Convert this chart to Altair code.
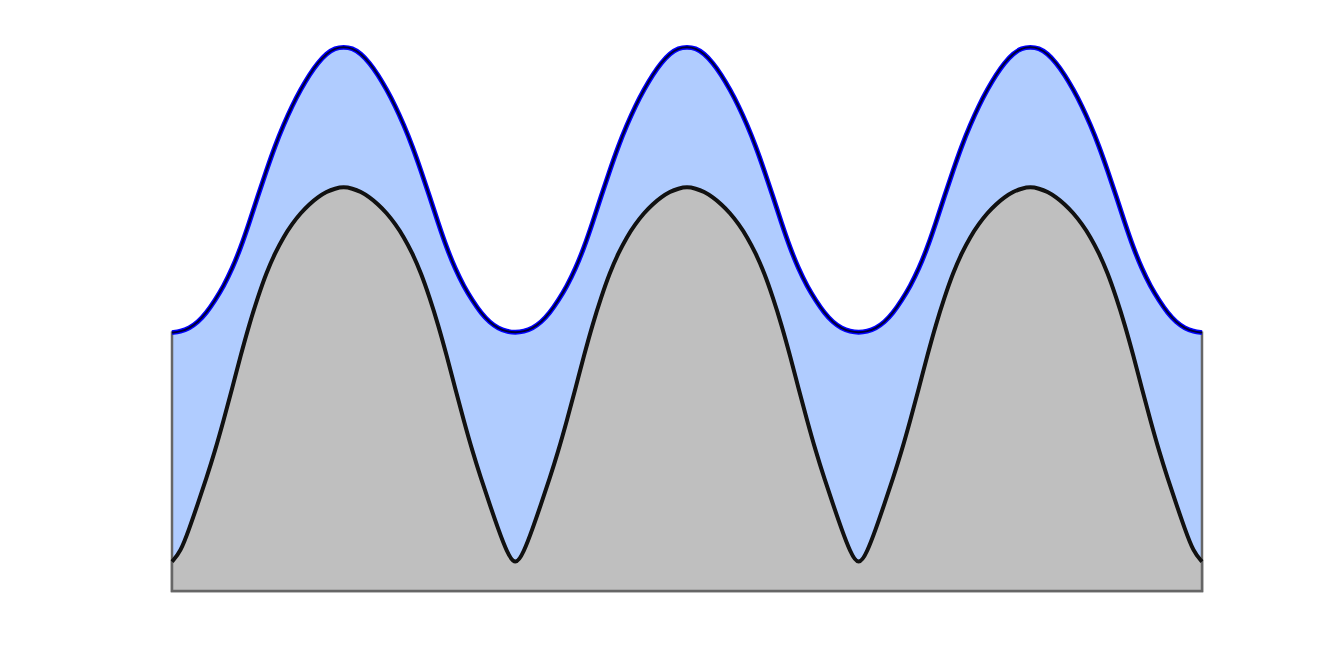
import altair as alt
import pandas as pd

# x positions: three full periods, sampled every quarter unit
x_vals = [i * 0.25 for i in range(121)]

# upper (blue) curve (fraction of plot height)
upper = [
    0.475, 0.477, 0.483, 0.494, 0.511, 0.534, 0.560, 0.592, 0.631, 0.677,
    0.726, 0.773, 0.818, 0.857, 0.892, 0.922, 0.949, 0.971, 0.988, 0.998,
    1.000, 0.998, 0.988, 0.971, 0.949, 0.922, 0.892, 0.857, 0.818, 0.773,
    0.726, 0.677, 0.631, 0.592, 0.560, 0.534, 0.511, 0.494, 0.483, 0.477,
    0.475, 0.477, 0.483, 0.494, 0.511, 0.534, 0.560, 0.592, 0.631, 0.677,
    0.726, 0.773, 0.818, 0.857, 0.892, 0.922, 0.949, 0.971, 0.988, 0.998,
    1.000, 0.998, 0.988, 0.971, 0.949, 0.922, 0.892, 0.857, 0.818, 0.773,
    0.726, 0.677, 0.631, 0.592, 0.560, 0.534, 0.511, 0.494, 0.483, 0.477,
    0.475, 0.477, 0.483, 0.494, 0.511, 0.534, 0.560, 0.592, 0.631, 0.677,
    0.726, 0.773, 0.818, 0.857, 0.892, 0.922, 0.949, 0.971, 0.988, 0.998,
    1.000, 0.998, 0.988, 0.971, 0.949, 0.922, 0.892, 0.857, 0.818, 0.773,
    0.726, 0.677, 0.631, 0.592, 0.560, 0.534, 0.511, 0.494, 0.483, 0.477,
    0.475,
]

# lower (black / gray) curve
lower = [
    0.054, 0.072, 0.114, 0.160, 0.207, 0.257, 0.313, 0.372, 0.433, 0.490,
    0.540, 0.585, 0.621, 0.651, 0.675, 0.695, 0.711, 0.724, 0.734, 0.740,
    0.743, 0.740, 0.734, 0.724, 0.711, 0.695, 0.675, 0.651, 0.621, 0.585,
    0.540, 0.490, 0.433, 0.372, 0.313, 0.257, 0.207, 0.160, 0.114, 0.072,
    0.045, 0.072, 0.114, 0.160, 0.207, 0.257, 0.313, 0.372, 0.433, 0.490,
    0.540, 0.585, 0.621, 0.651, 0.675, 0.695, 0.711, 0.724, 0.734, 0.740,
    0.743, 0.740, 0.734, 0.724, 0.711, 0.695, 0.675, 0.651, 0.621, 0.585,
    0.540, 0.490, 0.433, 0.372, 0.313, 0.257, 0.207, 0.160, 0.114, 0.072,
    0.045, 0.072, 0.114, 0.160, 0.207, 0.257, 0.313, 0.372, 0.433, 0.490,
    0.540, 0.585, 0.621, 0.651, 0.675, 0.695, 0.711, 0.724, 0.734, 0.740,
    0.743, 0.740, 0.734, 0.724, 0.711, 0.695, 0.675, 0.651, 0.621, 0.585,
    0.540, 0.490, 0.433, 0.372, 0.313, 0.257, 0.207, 0.160, 0.114, 0.072,
    0.054,
]

df = pd.DataFrame({"x": x_vals, "upper": upper, "lower": lower})

xs = alt.Scale(domain=[0, 30], nice=False, zero=False)
ys = alt.Scale(domain=[0, 1], nice=False)
X = alt.X("x:Q", scale=xs, axis=None)
interp = "basis"

base = alt.Chart(df)
YU = alt.Y("upper:Q", scale=ys, axis=None)
YL = alt.Y("lower:Q", scale=ys, axis=None)

blue_area = base.mark_area(
    color="#b0ccff", stroke="#666666", strokeWidth=2.5, interpolate=interp
).encode(x=X, y=YU)

gray_area = base.mark_area(
    color="#bfbfbf", stroke="#666666", strokeWidth=2.5, interpolate=interp
).encode(x=X, y=YL)

blue_line_outer = base.mark_line(
    color="#0000ff", strokeWidth=4.8, interpolate=interp
).encode(x=X, y=YU)

blue_line_inner = base.mark_line(
    color="#000033", strokeWidth=2, interpolate=interp
).encode(x=X, y=YU)

black_line = base.mark_line(
    color="#111111", strokeWidth=4, interpolate=interp
).encode(x=X, y=YL)

chart = alt.layer(
    blue_area, gray_area, blue_line_outer, blue_line_inner, black_line
).properties(
    width=1030,
    height=544,
    autosize=alt.AutoSizeParams(type="none"),
    padding={"left": 164, "top": 39, "right": 10, "bottom": 10},
).configure_view(stroke=None)

chart.save("out.html", embed_options={"renderer": "svg", "actions": False})
